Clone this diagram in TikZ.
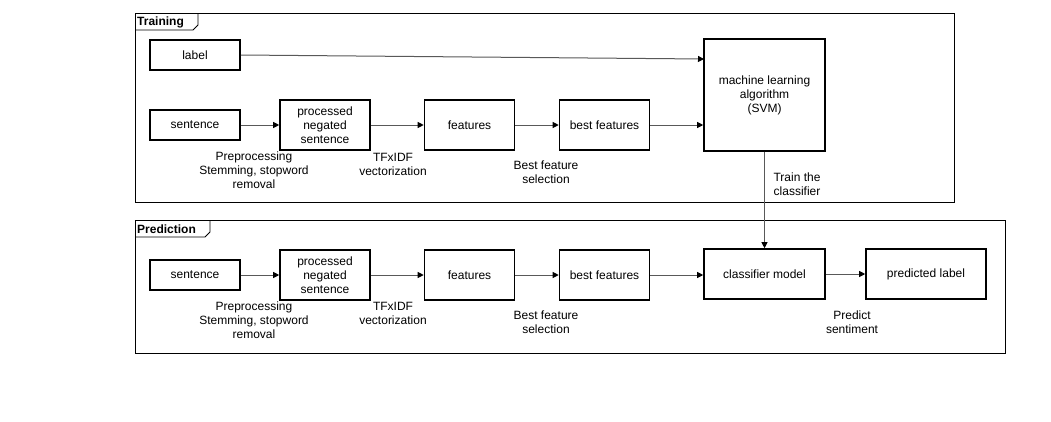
\documentclass[tikz,border=0pt]{standalone}
\usepackage{fontspec}
\setmainfont{Liberation Sans}
\usetikzlibrary{arrows.meta,calc}
\begin{document}
\begin{tikzpicture}[x=1pt,y=-1pt,
  every node/.style={font=\fontsize{12}{14}\selectfont},
  box/.style={draw=black,line width=1.6pt,inner sep=0pt,align=center,minimum width=90pt,minimum height=30pt},
  tall/.style={box,minimum height=50pt},
  frame/.style={draw=black,line width=0.9pt},
  conn/.style={draw=black!65,line width=1pt,-{Triangle[length=6pt,width=6pt,color=black]}},
  lbl/.style={align=center,inner sep=0pt},
  tabtxt/.style={anchor=west,inner sep=0pt,font=\fontsize{12}{14}\selectfont\bfseries}]
\useasboundingbox (0,0) rectangle (1051,421);
\fill[white] (0,0) rectangle (1051,421);
% containers
\draw[frame] (135,13) rectangle (954,202);
\draw[frame] (135,30) -- (193,30) -- (198,25) -- (198,13);
\node[tabtxt] (ttab) at (137,22) {Training};
\draw[frame] (135,220) rectangle (1005,353);
\draw[frame] (135,237) -- (205,237) -- (210,232) -- (210,220);
\node[tabtxt] (ptab) at (137,229) {Prediction};
% training row
\node[box] (label) at (195,55) {label};
\node[box] (sent1) at (195,125) {sentence};
\node[tall] (proc1) at (325,125) {processed\\negated\\sentence};
\node[tall] (feat1) at (469.5,125) {features};
\node[tall] (bf1) at (604.5,125) {best features};
\node[box,minimum width=121pt,minimum height=112pt] (ml) at (764.5,95) {machine learning\\algorithm\\(SVM)};
\coordinate (mlin) at (704,59);
\draw[conn] (label.east) -- (mlin);
\draw[conn] (sent1) -- (proc1);
\draw[conn] (proc1) -- (feat1);
\draw[conn] (feat1) -- (bf1);
\draw[conn] (bf1.east) -- (bf1.east -| ml.west);
\node[lbl] (l1) at (254,170) {Preprocessing\\Stemming, stopword\\removal};
\node[lbl] (l2) at (393,164) {TFxIDF\\vectorization};
\node[lbl] (l3) at (546,172.5) {Best feature\\selection};
\node[lbl] (l4) at (797,184.5) {Train the\\classifier};
% prediction row
\node[box] (sent2) at (195,275) {sentence};
\node[tall] (proc2) at (325,275) {processed\\negated\\sentence};
\node[tall] (feat2) at (469.5,275) {features};
\node[tall] (bf2) at (604.5,275) {best features};
\node[box,minimum width=121pt,minimum height=50pt] (cm) at (764.5,274) {classifier model};
\node[box,minimum width=120pt,minimum height=50pt] (pl) at (926,274) {predicted label};
\draw[conn] (sent2) -- (proc2);
\draw[conn] (proc2) -- (feat2);
\draw[conn] (feat2) -- (bf2);
\draw[conn] (bf2.east) -- (bf2.east -| cm.west);
\draw[conn] (cm) -- (pl);
\draw[conn] (ml.south) -- (cm.north);
\node[lbl] (m1) at (254,320.5) {Preprocessing\\Stemming, stopword\\removal};
\node[lbl] (m2) at (393,313.5) {TFxIDF\\vectorization};
\node[lbl] (m3) at (546,322.5) {Best feature\\selection};
\node[lbl] (m4) at (852,322.5) {Predict\\sentiment};
\end{tikzpicture}
\end{document}
